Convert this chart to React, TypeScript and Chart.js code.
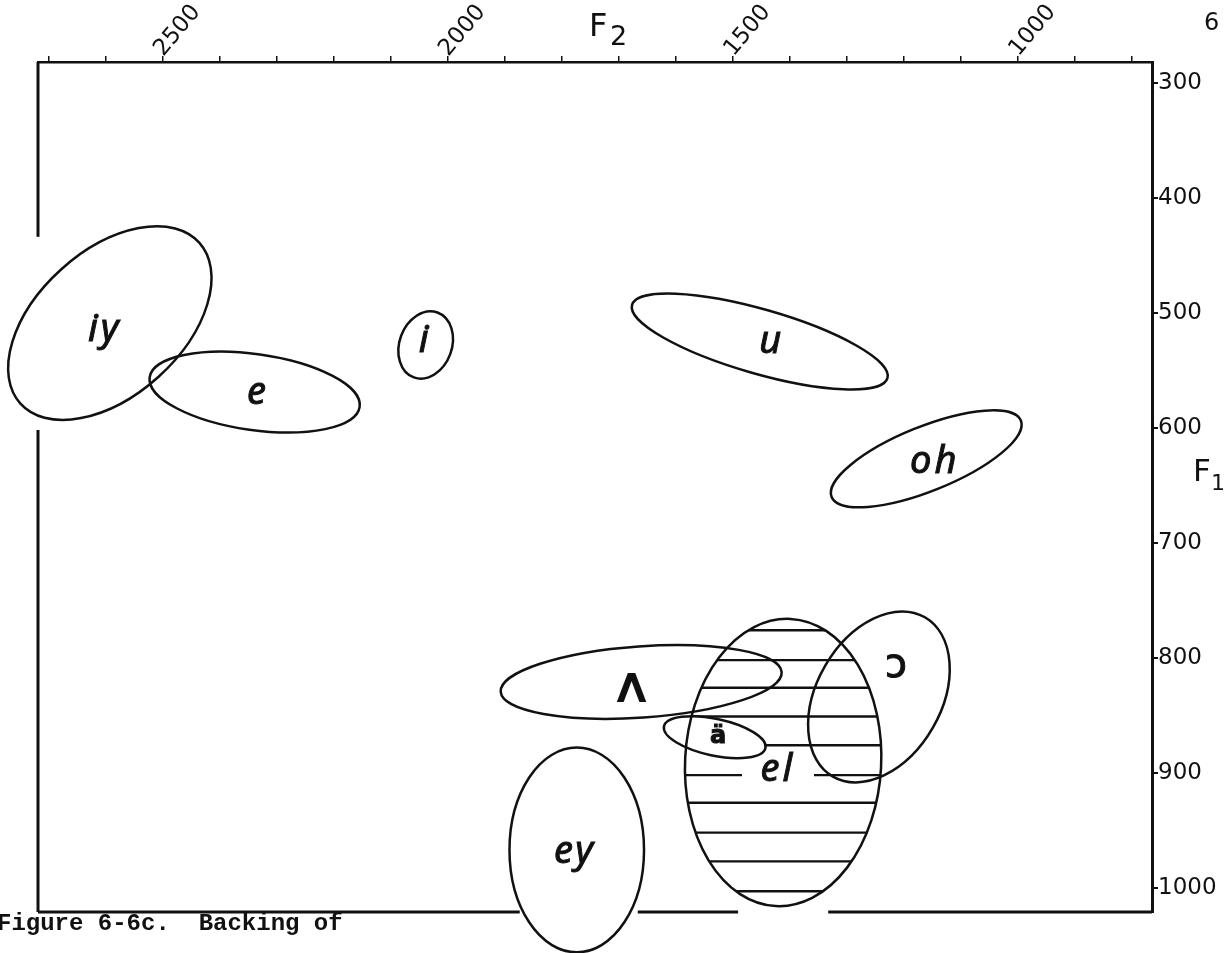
import React, { useEffect, useRef } from 'react';
import { Chart, registerables } from 'chart.js';

Chart.register(...registerables);

// ---- axes ----
const F2_MIN = 765;
const F2_MAX = 2719;
const F1_MIN = 282;
const F1_MAX = 1021;
const F2_TICKS = [800, 900, 1000, 1100, 1200, 1300, 1400, 1500, 1600, 1700, 1800, 1900, 2000, 2100, 2200, 2300, 2400, 2500, 2600, 2700];
const F2_LABELED = [1000, 1500, 2000, 2500];
const F1_TICKS = [300, 400, 500, 600, 700, 800, 900, 1000];

// ---- vowel regions ----
const VOWELS = ['iy', 'e', 'i', 'u', 'oh', 'ʌ', 'ɔ', 'ä', 'el', 'ey'];
const CENTER_F2 = [2593, 2339, 2039, 1453, 1161, 1661, 1244, 1532, 1412, 1774];
const CENTER_F1 = [509, 569, 528, 525, 627, 821, 834, 869, 891, 967];
const RADIUS_F2 = [211, 186, 46, 233, 179, 247, 109, 91, 172, 118];
const RADIUS_F1 = [63, 33, 30, 28, 28, 31, 80, 16, 125, 89];
const TILT_DEG = [-42, 8, 20, 16, -22, -4, 30, 12, 3, 0];
const LABEL_F2 = [2602, 2333, 2040, 1432, 1146, 1678, 1214, 1526, 1421, 1777];
const LABEL_F1 = [515, 570, 525, 526, 630, 826, 808, 869, 898, 969];
const HATCHED = 'el';
const CLEARED = 'ä';
const HATCH_F1 = [776, 802, 826, 851, 876, 902, 926, 952, 977, 1003];

// ---- frame pieces (left and bottom edges are interrupted) ----
const LEFT_FRAME_F1 = [[F1_MIN, 434], [602, F1_MAX]];
const BOTTOM_FRAME_F2 = [[F2_MAX, 1874], [1667, 1491], [1333, F2_MIN]];

const CAPTION = 'Figure 6-6c.  Backing of';

function ellipseGeom(chart: any, i: number) {
  const xs = chart.scales.x;
  const ys = chart.scales.y;
  const cx = xs.getPixelForValue(CENTER_F2[i]);
  const cy = ys.getPixelForValue(CENTER_F1[i]);
  const rx = Math.abs(xs.getPixelForValue(CENTER_F2[i] + RADIUS_F2[i]) - cx);
  const ry = Math.abs(ys.getPixelForValue(CENTER_F1[i] + RADIUS_F1[i]) - cy);
  return { cx, cy, rx, ry, rot: (TILT_DEG[i] * Math.PI) / 180 };
}

function ellipsePath(ctx: CanvasRenderingContext2D, chart: any, i: number) {
  const g = ellipseGeom(chart, i);
  ctx.beginPath();
  ctx.ellipse(g.cx, g.cy, g.rx, g.ry, g.rot, 0, Math.PI * 2);
}

function labelFont(name: string) {
  if (name === 'ä') return 'bold 24px "DejaVu Sans"';
  if (name === 'ʌ') return '50px "DejaVu Sans"';
  if (name === 'ɔ') return '40px "DejaVu Sans"';
  return 'italic 38px "Noto Sans"';
}

const vowelPlugin = {
  id: 'vowelRegions',
  afterDatasetsDraw(chart: any) {
    const ctx: any = chart.ctx;
    const xs = chart.scales.x;
    const ys = chart.scales.y;
    const hi = VOWELS.indexOf(HATCHED);
    const ci = VOWELS.indexOf(CLEARED);

    // hatching
    ctx.save();
    ellipsePath(ctx, chart, hi);
    ctx.clip();
    const hg = ellipseGeom(chart, hi);
    ctx.strokeStyle = '#111';
    ctx.lineWidth = 2.4;
    HATCH_F1.forEach((v) => {
      const y = ys.getPixelForValue(v);
      ctx.beginPath();
      ctx.moveTo(hg.cx - hg.rx * 1.5, y);
      ctx.lineTo(hg.cx + hg.rx * 1.5, y);
      ctx.stroke();
    });
    ctx.fillStyle = '#fff';
    ellipsePath(ctx, chart, ci);
    ctx.fill();
    const lx = xs.getPixelForValue(LABEL_F2[hi]);
    const ly = ys.getPixelForValue(LABEL_F1[hi]);
    ctx.fillRect(lx - 36, ly - 16, 72, 30);
    ctx.restore();

    // outlines
    ctx.save();
    ctx.strokeStyle = '#111';
    ctx.lineWidth = 2.5;
    VOWELS.forEach((_, i) => {
      ellipsePath(ctx, chart, i);
      ctx.stroke();
    });
    ctx.restore();

    // labels
    ctx.save();
    ctx.fillStyle = '#111';
    ctx.strokeStyle = '#111';
    ctx.textAlign = 'center';
    ctx.textBaseline = 'middle';
    VOWELS.forEach((name, i) => {
      const x = xs.getPixelForValue(LABEL_F2[i]);
      const y = ys.getPixelForValue(LABEL_F1[i]);
      ctx.font = labelFont(name);
      const plain = name !== 'ä' && name !== 'ʌ' && name !== 'ɔ';
      ctx.letterSpacing = plain ? '3px' : '0px';
      ctx.lineWidth = name === 'ä' ? 0 : name === 'ʌ' ? 2 : 1;
      ctx.fillText(name, x, y);
      if (ctx.lineWidth > 0) ctx.strokeText(name, x, y);
    });
    ctx.letterSpacing = '0px';
    ctx.restore();

    // interrupted left and bottom frame edges
    ctx.save();
    ctx.strokeStyle = '#111';
    ctx.lineWidth = 3;
    const left = chart.chartArea.left;
    const bottom = chart.chartArea.bottom;
    LEFT_FRAME_F1.forEach(([a, b]) => {
      ctx.beginPath();
      ctx.moveTo(left, ys.getPixelForValue(a));
      ctx.lineTo(left, ys.getPixelForValue(b));
      ctx.stroke();
    });
    BOTTOM_FRAME_F2.forEach(([a, b]) => {
      ctx.beginPath();
      ctx.moveTo(xs.getPixelForValue(a), bottom);
      ctx.lineTo(xs.getPixelForValue(b), bottom);
      ctx.stroke();
    });
    ctx.restore();

    // axis titles, page mark, caption
    ctx.save();
    ctx.fillStyle = '#111';
    ctx.textAlign = 'left';
    ctx.textBaseline = 'alphabetic';
    ctx.font = '32px "DejaVu Sans"';
    ctx.fillText('F', 589, 36);
    ctx.font = '27px "DejaVu Sans"';
    ctx.fillText('2', 610, 45);
    ctx.font = '31px "DejaVu Sans"';
    ctx.fillText('F', 1193, 481);
    ctx.font = '22px "DejaVu Sans"';
    ctx.fillText('1', 1211, 490);
    ctx.font = '24px "DejaVu Sans"';
    ctx.fillText('6', 1204, 30);
    ctx.font = 'bold 24px "Liberation Mono"';
    ctx.fillText(CAPTION, -3, 930);
    ctx.restore();
  },
};

export default function App() {
  const ref = useRef<HTMLCanvasElement | null>(null);

  useEffect(() => {
    if (!ref.current) return;
    const chart = new Chart(ref.current, {
      type: 'scatter',
      data: {
        datasets: [
          {
            label: 'centres',
            data: CENTER_F2.map((x, i) => ({ x, y: CENTER_F1[i] })),
            pointRadius: 0,
            pointHoverRadius: 0,
          },
        ],
      },
      options: {
        responsive: false,
        animation: false,
        events: [],
        layout: { padding: { left: 38, top: 0, right: 0, bottom: 41 } },
        plugins: {
          legend: { display: false },
          tooltip: { enabled: false },
          title: { display: false },
        },
        scales: {
          x: {
            type: 'linear',
            position: 'top',
            reverse: true,
            min: F2_MIN,
            max: F2_MAX,
            afterBuildTicks: (s: any) => {
              s.ticks = F2_TICKS.map((v) => ({ value: v }));
            },
            afterFit: (s: any) => {
              s.height = 62;
            },
            ticks: {
              autoSkip: false,
              minRotation: 50,
              maxRotation: 50,
              padding: -6,
              labelOffset: 17,
              color: '#111',
              font: { family: '"DejaVu Sans"', size: 23 },
              callback: (v: any) => (F2_LABELED.includes(Number(v)) ? String(v) : ''),
            },
            grid: {
              drawOnChartArea: false,
              drawTicks: true,
              tickLength: 6,
              color: '#111',
              lineWidth: 1.5,
            },
            border: { display: true, color: '#111', width: 2.5 },
          },
          y: {
            type: 'linear',
            position: 'right',
            reverse: true,
            min: F1_MIN,
            max: F1_MAX,
            afterBuildTicks: (s: any) => {
              s.ticks = F1_TICKS.map((v) => ({ value: v }));
            },
            afterFit: (s: any) => {
              s.width = 1225 - 1152;
            },
            ticks: {
              padding: 0,
              color: '#111',
              font: { family: '"DejaVu Sans"', size: 23 },
              callback: (v: any) => String(v),
            },
            grid: {
              drawOnChartArea: false,
              drawTicks: true,
              tickLength: 6,
              color: '#111',
              lineWidth: 2,
            },
            border: { display: true, color: '#111', width: 3 },
          },
        },
      },
      plugins: [vowelPlugin],
    });
    return () => chart.destroy();
  }, []);

  return (
    <div style={{ position: 'fixed', left: 0, top: 0, width: 1225, height: 953, background: '#fff' }}>
      <canvas ref={ref} width={1225} height={953} style={{ display: 'block' }} />
    </div>
  );
}
